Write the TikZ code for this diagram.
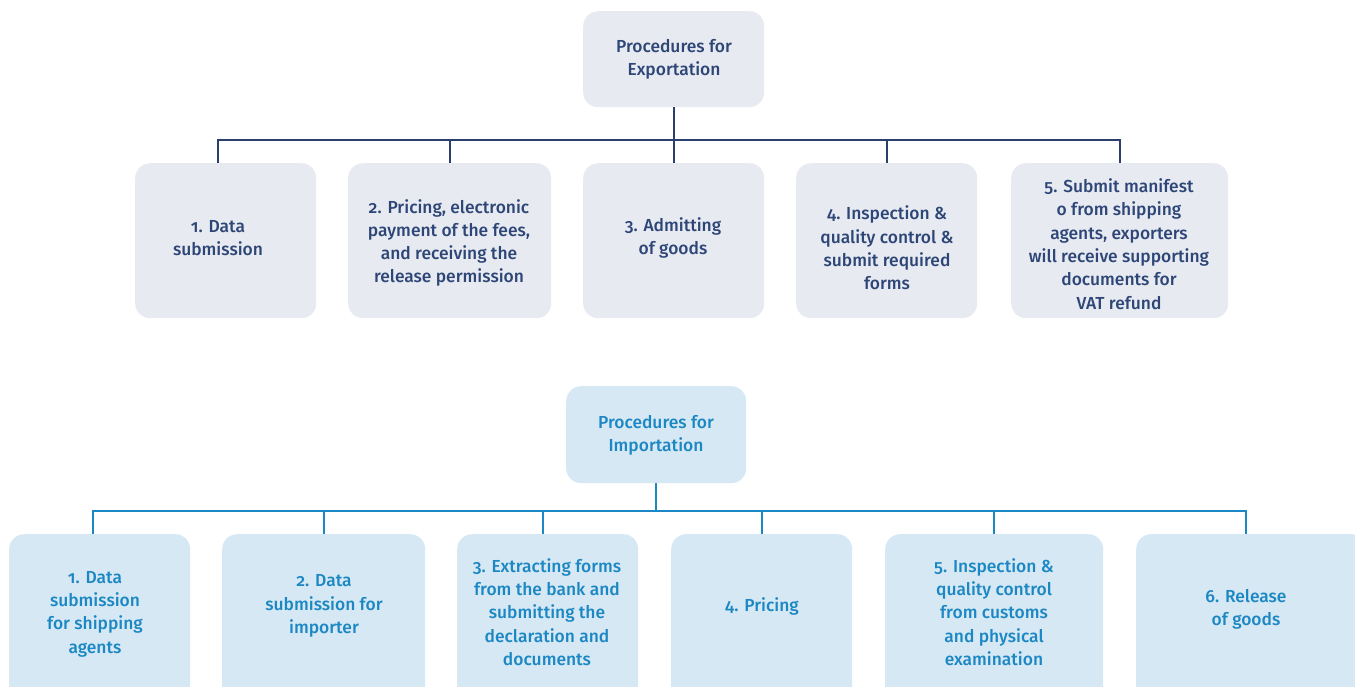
\documentclass[tikz,border=0pt]{standalone}
\usepackage{fontspec}
\IfFontExistsTF{Fira Sans Medium}{\setmainfont{Fira Sans Medium}[Numbers=OldStyle]}{\setmainfont{Fira Sans}[Numbers=OldStyle]}
\definecolor{exfill}{HTML}{E7EAF0}
\definecolor{extext}{HTML}{2D4677}
\definecolor{exline}{HTML}{2A3F6E}
\definecolor{imfill}{HTML}{D6E8F4}
\definecolor{imtext}{HTML}{1B87C3}
\definecolor{imline}{HTML}{1B88C6}
\begin{document}
\begin{tikzpicture}[x=1pt,y=-1pt,
  exbox/.style={rectangle, rounded corners=15pt, fill=exfill, draw=none, inner sep=0pt, anchor=north west},
  imbox/.style={rectangle, rounded corners=15pt, fill=imfill, draw=none, inner sep=0pt, anchor=north west},
  extxt/.style={text=extext, align=center, font=\fontsize{17.4}{23.3}\selectfont, inner sep=0pt},
  imtxt/.style={text=imtext, align=center, font=\fontsize{17.4}{23.3}\selectfont, inner sep=0pt},
  exconn/.style={draw=exline, line width=2pt},
  imconn/.style={draw=imline, line width=2pt}]
\useasboundingbox (0,0) rectangle (1355,686);
\fill[white] (0,0) rectangle (1355,686);
% ---------- Exportation ----------
\node[exbox, minimum width=181pt, minimum height=96pt] (etop) at (583,11) {};
\node[extxt] (etopt) at (674,59) {Procedures for\\Exportation};
\node[exbox, minimum width=181pt, minimum height=155pt] (e1) at (135,163) {};
\node[exbox, minimum width=203pt, minimum height=155pt] (e2) at (348,163) {};
\node[exbox, minimum width=181pt, minimum height=155pt] (e3) at (583,163) {};
\node[exbox, minimum width=181pt, minimum height=155pt] (e4) at (796,163) {};
\node[exbox, minimum width=217pt, minimum height=155pt] (e5) at (1011,163) {};
\node[extxt] (e1t) at (218,238) {1. Data\\submission};
\node[extxt] (e2t) at (449,243) {2. Pricing, electronic\\payment of the fees,\\and receiving the\\release permission};
\node[extxt] (e3t) at (673,238) {3. Admitting\\of goods};
\node[extxt] (e4t) at (887,248) {4. Inspection \&\\quality control \&\\submit required\\forms};
\node[extxt] (e5t) at (1119,244) {5. Submit manifest\\o from shipping\\agents, exporters\\will receive supporting\\documents for\\VAT refund};
\coordinate (eb) at (0,140);
\coordinate (e1top) at ([xshift=-7.5pt]e1.north);
\draw[exconn] (etop.south) -- (etop.south |- eb);
\draw[exconn] (e1top) -- (e1top |- eb) -- (e5.north |- eb) -- (e5.north);
\draw[exconn] (e2.north) -- (e2.north |- eb);
\draw[exconn] (e3.north) -- (e3.north |- eb);
\draw[exconn] (e4.north) -- (e4.north |- eb);
% ---------- Importation ----------
\node[imbox, minimum width=180pt, minimum height=97pt] (itop) at (566,386) {};
\node[imtxt] (itopt) at (656,435) {Procedures for\\Importation};
\node[imbox, minimum width=181pt, minimum height=175pt] (i1) at (9,534) {};
\node[imbox, minimum width=203pt, minimum height=175pt] (i2) at (222,534) {};
\node[imbox, minimum width=181pt, minimum height=175pt] (i3) at (457,534) {};
\node[imbox, minimum width=181pt, minimum height=175pt] (i4) at (671,534) {};
\node[imbox, minimum width=218pt, minimum height=175pt] (i5) at (885,534) {};
\node[imbox, minimum width=230pt, minimum height=175pt] (i6) at (1136,534) {};
\node[imtxt] (i1t) at (95,614) {1. Data\\submission\\for shipping\\agents};
\node[imtxt] (i2t) at (324,606) {2. Data\\submission for\\importer};
\node[imtxt] (i3t) at (547,612) {3. Extracting forms\\from the bank and\\submitting the\\declaration and\\documents};
\node[imtxt] (i4t) at (762,606) {4. Pricing};
\node[imtxt] (i5t) at (994,612) {5. Inspection \&\\quality control\\from customs\\and physical\\examination};
\node[imtxt] (i6t) at (1246,609) {6. Release\\of goods};
\coordinate (ib) at (0,511);
\coordinate (i1top) at ([xshift=-6.5pt]i1.north);
\coordinate (i3top) at ([xshift=-4.5pt]i3.north);
\coordinate (i5top) at ([xshift=0pt]i5.north);
\coordinate (i6top) at ([xshift=-5pt]i6.north);
\draw[imconn] (itop.south) -- (itop.south |- ib);
\draw[imconn] (i1top) -- (i1top |- ib) -- (i6top |- ib) -- (i6top);
\draw[imconn] (i2.north) -- (i2.north |- ib);
\draw[imconn] (i3top) -- (i3top |- ib);
\draw[imconn] (i4.north) -- (i4.north |- ib);
\draw[imconn] (i5top) -- (i5top |- ib);
\end{tikzpicture}
\end{document}
